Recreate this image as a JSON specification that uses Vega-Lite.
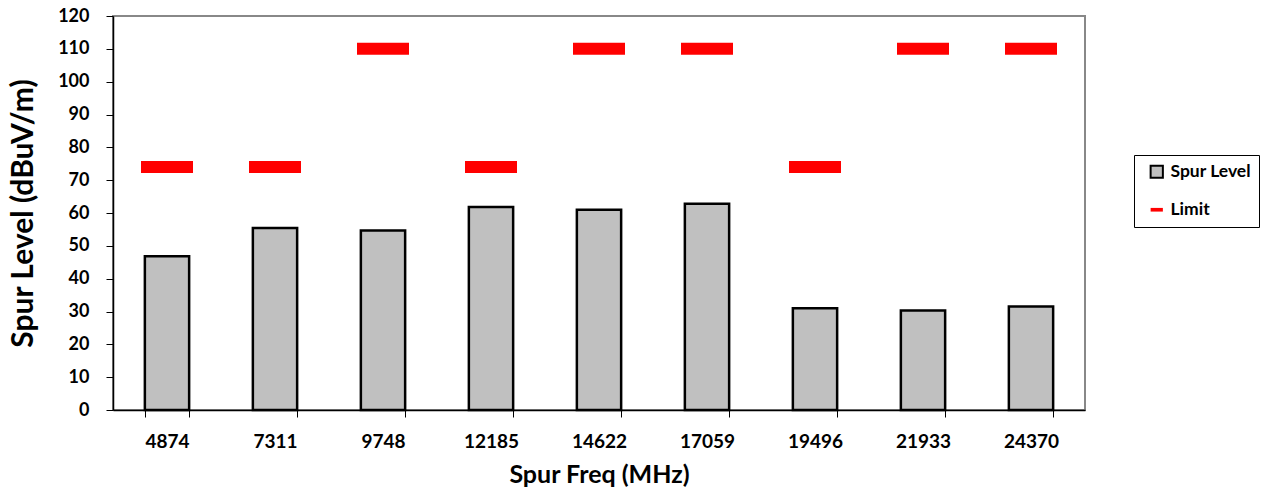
{
  "$schema": "https://vega.github.io/schema/vega-lite/v6.json",
  "autosize": "none",
  "width": 972,
  "height": 394,
  "padding": {"left": 113, "top": 16, "right": 178, "bottom": 86},
  "background": "white",
  "config": {
    "font": "Lato",
    "view": {"stroke": "#888888", "strokeWidth": 2},
    "axisY": {
      "titleFont": "Lato",
      "titleFontSize": 30,
      "titleFontWeight": "bold",
      "titleColor": "black",
      "titlePadding": 19,
      "labelOverlap": false,
      "labelFont": "Lato",
      "labelFontSize": 18,
      "labelFontWeight": "bold",
      "labelColor": "black",
      "labelPadding": 17,
      "tickColor": "black",
      "tickSize": 7,
      "domainColor": "black",
      "domainWidth": 1.5,
      "grid": false
    }
  },
  "data": {
    "values": [
      {"freq": "4874", "level": 46.8, "limit": 74},
      {"freq": "7311", "level": 55.4, "limit": 74},
      {"freq": "9748", "level": 54.7, "limit": 110},
      {"freq": "12185", "level": 61.8, "limit": 74},
      {"freq": "14622", "level": 61.0, "limit": 110},
      {"freq": "17059", "level": 62.8, "limit": 110},
      {"freq": "19496", "level": 31.0, "limit": 74},
      {"freq": "21933", "level": 30.3, "limit": 110},
      {"freq": "24370", "level": 31.5, "limit": 110}
    ]
  },
  "encoding": {
    "x": {
      "field": "freq",
      "type": "ordinal",
      "sort": null,
      "scale": {"paddingInner": 0.59, "paddingOuter": 0.295},
      "axis": {
        "title": "Spur Freq (MHz)",
        "titleFont": "Lato",
        "titleFontSize": 25,
        "titleFontWeight": "bold",
        "titleColor": "black",
        "titlePadding": 11,
        "labelAngle": 0,
        "labelFont": "Lato",
        "labelFontSize": 19,
        "labelFontWeight": "bold",
        "labelColor": "black",
        "labelPadding": 15,
        "tickBand": "extent",
        "tickColor": "black",
        "tickSize": 7,
        "domainColor": "black",
        "domainWidth": 1.5,
        "grid": false
      }
    }
  },
  "layer": [
    {
      "mark": {"type": "bar", "stroke": "black", "strokeWidth": 2.5},
      "encoding": {
        "y": {
          "field": "level",
          "type": "quantitative",
          "scale": {"domain": [0, 120], "nice": false},
          "axis": {
            "title": "Spur Level (dBuV/m)",
            "values": [0, 10, 20, 30, 40, 50, 60, 70, 80, 90, 100, 110, 120]
          }
        },
        "color": {
          "datum": "Spur Level",
          "scale": {"domain": ["Spur Level", "Limit"], "range": ["#c0c0c0", "#ff0000"]},
          "legend": {
            "title": null,
            "orient": "none",
            "legendX": 1021,
            "legendY": 139,
            "strokeColor": "black",
            "padding": 8,
            "rowPadding": 18,
            "symbolOffset": 6,
            "symbolStrokeColor": "black",
            "symbolStrokeWidth": 2,
            "symbolType": "square",
            "labelFont": "Lato",
            "labelFontSize": 17.5,
            "labelFontWeight": "bold",
            "labelColor": "black",
            "labelOffset": 5,
            "labelExpr": "datum.label + '  '",
            "symbolSize": 150,
            "encode": {
              "symbols": {
                "update": {
                  "shape": {"signal": "datum.value === 'Limit' ? 'M-1,-0.3H1V0.3H-1Z' : 'square'"},
                  "stroke": {"signal": "datum.value === 'Limit' ? 'transparent' : 'black'"},
                  "strokeWidth": {"value": 2},
                  "fillOpacity": {"value": 1},
                  "opacity": {"value": 1}
                }
              }
            }
          }
        }
      }
    },
    {
      "mark": {"type": "tick", "thickness": 12, "size": 52, "opacity": 1},
      "encoding": {
        "y": {
          "field": "limit",
          "type": "quantitative",
          "axis": {
            "title": "Spur Level (dBuV/m)",
            "values": [0, 10, 20, 30, 40, 50, 60, 70, 80, 90, 100, 110, 120]
          }
        },
        "color": {"datum": "Limit", "legend": null}
      }
    }
  ]
}
